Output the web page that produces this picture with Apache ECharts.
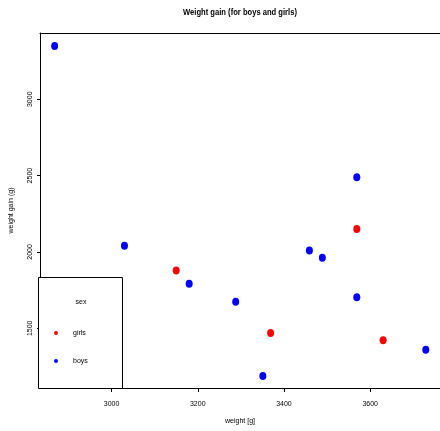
<!DOCTYPE html>
<html><head><meta charset="utf-8">
<script src="https://cdn.jsdelivr.net/npm/echarts@6/dist/echarts.min.js"></script>
<style>html,body{margin:0;padding:0;background:#fff}#c{width:440px;height:431px}</style>
</head><body><div id="c"></div>
<script>
const boysWeight = [2868, 3030, 3180, 3288, 3351, 3459, 3489, 3569, 3569, 3729];
const boysGain   = [3349, 2041, 1792, 1674, 1188, 2010, 1962, 2490, 1703, 1360];
const girlsWeight = [3150, 3369, 3569, 3630];
const girlsGain   = [1878, 1469, 2151, 1421];
const xTicks = [3000, 3200, 3400, 3600];
const yTicks = [1500, 2000, 2500, 3000];
const legendTitle = 'sex';
const legendNames = ['girls', 'boys'];
const colors = { girls: '#ff0000', boys: '#0000ff' };

const FONT = 'Liberation Sans';
const XMIN = 2834, XMAX = 3762;
const chart = echarts.init(document.getElementById('c'), null, {renderer: 'canvas'});
chart.setOption({
  animation: false,
  grid: {left: 38, top: 33, right: 0, bottom: 43, show: false},
  xAxis: [{
    type: 'value', min: XMIN, max: XMAX,
    name: 'weight [g]', nameLocation: 'middle', nameGap: 30,
    nameTextStyle: {fontFamily: FONT, fontSize: 7, color: '#000'},
    axisLine: {show: true, lineStyle: {color: '#000', width: 1}},
    axisTick: {show: true, length: 4, customValues: xTicks, lineStyle: {color: '#000'}},
    axisLabel: {customValues: xTicks, margin: 13, fontFamily: FONT, fontSize: 7, color: '#000', formatter: v => String(v)},
    splitLine: {show: false}
  }, {
    type: 'value', position: 'top', min: XMIN, max: XMAX,
    axisLine: {show: true, lineStyle: {color: '#000', width: 1}},
    axisTick: {show: false}, axisLabel: {show: false}, splitLine: {show: false}
  }],
  yAxis: {
    type: 'value', min: 1109, max: 3434,
    name: 'weight gain (g)', nameLocation: 'middle', nameGap: 25, nameRotate: 90,
    nameTextStyle: {fontFamily: FONT, fontSize: 7, color: '#000'},
    axisLine: {show: true, lineStyle: {color: '#000', width: 1}},
    axisTick: {show: true, length: 3, customValues: yTicks, lineStyle: {color: '#000'}},
    axisLabel: {customValues: yTicks, rotate: 90, margin: 6, fontFamily: FONT, fontSize: 7, color: '#000', formatter: v => String(v)},
    splitLine: {show: false}
  },
  series: [
    {name: 'boys', type: 'scatter', symbol: 'circle', symbolSize: [7, 8],
     itemStyle: {color: colors.boys, opacity: 1},
     data: boysWeight.map((w, i) => [w, boysGain[i]])},
    {name: 'girls', type: 'scatter', symbol: 'circle', symbolSize: [7, 8],
     itemStyle: {color: colors.girls, opacity: 1},
     data: girlsWeight.map((w, i) => [w, girlsGain[i]])}
  ],
  graphic: [
    {type: 'text', x: 240, y: 12, scaleX: 0.8, z: 101, style: {text: 'Weight gain (for boys and girls)', font: 'bold 9.5px ' + FONT, fill: '#000', textAlign: 'center', textVerticalAlign: 'middle'}},
    {type: 'rect', shape: {x: 38.5, y: 277.5, width: 84, height: 111}, style: {fill: '#fff', stroke: '#000', lineWidth: 1}, z: 100},
    {type: 'text', x: 81, y: 302, z: 101, style: {text: legendTitle, font: '7px ' + FONT, fill: '#000', textAlign: 'center', textVerticalAlign: 'middle'}},
    {type: 'circle', shape: {cx: 56, cy: 333, r: 2}, style: {fill: colors[legendNames[0]]}, z: 101},
    {type: 'text', x: 73, y: 333, z: 101, style: {text: legendNames[0], font: '7px ' + FONT, fill: '#000', textAlign: 'left', textVerticalAlign: 'middle'}},
    {type: 'circle', shape: {cx: 56, cy: 361, r: 2}, style: {fill: colors[legendNames[1]]}, z: 101},
    {type: 'text', x: 73, y: 361, z: 101, style: {text: legendNames[1], font: '7px ' + FONT, fill: '#000', textAlign: 'left', textVerticalAlign: 'middle'}}
  ]
});
</script></body></html>
